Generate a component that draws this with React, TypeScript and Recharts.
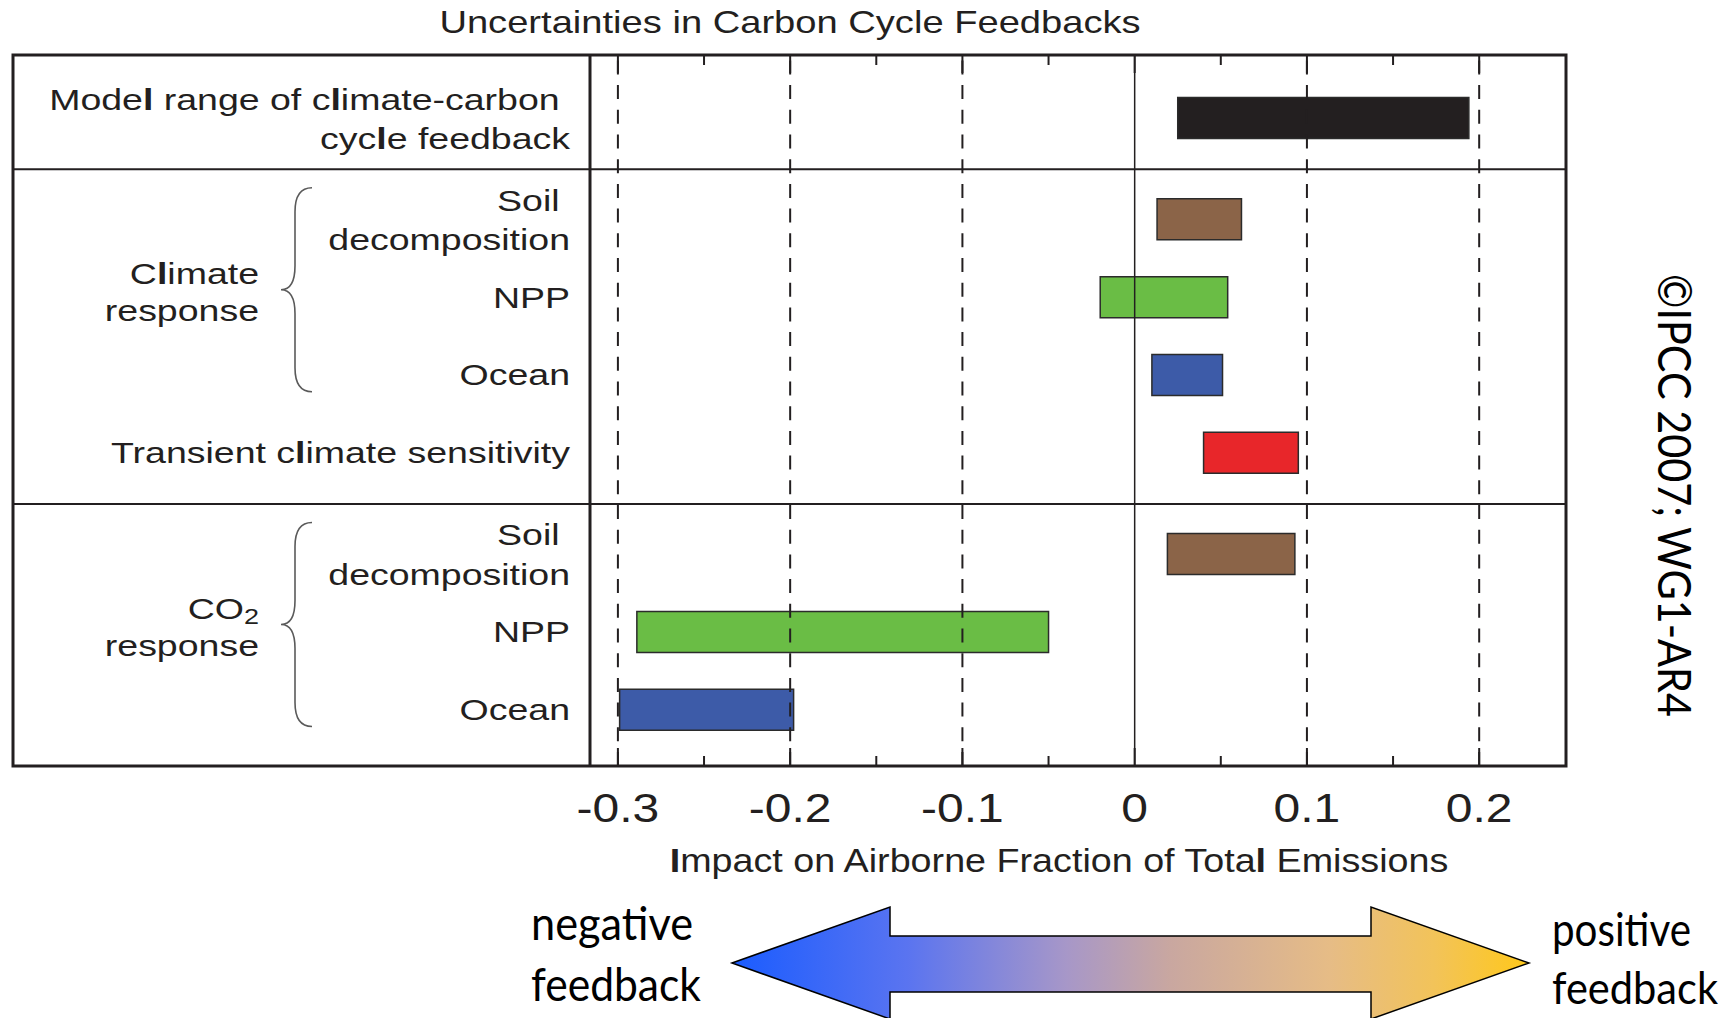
import React from 'react';
import { BarChart, Bar, XAxis, YAxis, Cell, ReferenceLine, ReferenceArea } from 'recharts';

// rows, top to bottom
const ROW_LABELS: string[][] = [
  ['Model range of climate-carbon ', 'cycle feedback'],
  ['Soil ', 'decomposition'],
  ['NPP'],
  ['Ocean'],
  ['Transient climate sensitivity'],
  ['Soil ', 'decomposition'],
  ['NPP'],
  ['Ocean'],
];
const ROW_GROUP = [0, 1, 1, 1, 1, 2, 2, 2];
const LOW = [0.025, 0.013, -0.02, 0.01, 0.04, 0.019, -0.289, -0.299];
const HIGH = [0.194, 0.062, 0.054, 0.051, 0.095, 0.093, -0.05, -0.198];

const GROUP_LABELS = [
  { lines: ['Climate', 'response'], first: 1, last: 3 },
  { lines: ['CO2', 'response'], first: 5, last: 7 },
];

const MAJOR_TICKS = [-0.3, -0.2, -0.1, 0, 0.1, 0.2];
const MINOR_TICKS = [-0.25, -0.15, -0.05, 0.05, 0.15];

const TITLE = 'Uncertainties in Carbon Cycle Feedbacks';
const X_TITLE = 'Impact on Airborne Fraction of Total Emissions';
const CREDIT = '©IPCC 2007; WG1-AR4';

const BAR_FILLS = ['#231f20', '#8b6448', '#6abd45', '#3d5ba8', '#e8262a', '#8b6448', '#6abd45', '#3d5ba8'];

// layout
const W = 1729;
const H = 1018;
const FRAME = { left: 13, top: 55, right: 1566, bottom: 766 };
const PANEL_W = 577;
const PLOT_W = FRAME.right - FRAME.left - PANEL_W;
const PLOT_H = FRAME.bottom - FRAME.top;
const X_DOMAIN: [number, number] = [-0.3162, 0.2504];
const Y_DOMAIN: [number, number] = [-0.816, 8.317];
const GROUP_GAP = 0.3;

const INK = '#231f20';
const FONT = '"Liberation Sans", Arial, Helvetica, sans-serif';
const SLIDE_FONT = 'Lato, "Open Sans", sans-serif';

const ROW_POS = ROW_GROUP.map((g, i) => i + g * GROUP_GAP);
const SEP_POS = ROW_POS.slice(1)
  .map((p, i) => (ROW_GROUP[i + 1] !== ROW_GROUP[i] ? (p + ROW_POS[i]) / 2 : null))
  .filter((p): p is number => p !== null);

const rows = ROW_LABELS.map((_, i) => ({ pos: ROW_POS[i], range: [LOW[i], HIGH[i]] }));

const near = (a: number, b: number) => Math.abs(a - b) < 1e-6;

// the scanned figure renders some l / I glyphs heavier, and CO2 with a subscript
function rich(line: string) {
  return line
    .split(/((?<!i)l|I|(?<=O)2)/)
    .filter(Boolean)
    .map((part, i) => {
      if (part === 'l' || part === 'I')
        return (
          <tspan key={i} fontWeight="bold">
            {part}
          </tspan>
        );
      if (part === '2')
        return (
          <tspan key={i} fontSize="0.72em" dy={5}>
            2
          </tspan>
        );
      return <tspan key={i}>{part}</tspan>;
    });
}

const Stretched = ({
  x,
  y,
  sx,
  size,
  anchor = 'end',
  children,
}: {
  x: number;
  y: number;
  sx: number;
  size: number;
  anchor?: 'start' | 'middle' | 'end';
  children: React.ReactNode;
}) => (
  <text
    transform={`translate(${x},${y}) scale(${sx},1)`}
    fontFamily={FONT}
    fontSize={size}
    fill={INK}
    textAnchor={anchor}
    style={{ whiteSpace: 'pre' }}
  >
    {children}
  </text>
);

const RowTick = (props: any) => {
  const { x, y, payload } = props;
  const v = payload.value as number;
  if (SEP_POS.some((s) => near(s, v))) {
    return <line x1={x - PANEL_W} x2={x + PLOT_W} y1={y} y2={y} stroke={INK} strokeWidth={2} />;
  }
  const row = ROW_POS.findIndex((p) => near(p, v));
  if (row < 0) return <g />;
  const lines = ROW_LABELS[row];
  const base = lines.length === 1 ? [10] : [-9, 30.5];
  return (
    <g>
      {lines.map((l, i) => (
        <Stretched key={i} x={x - 20} y={y + base[i]} sx={1.25} size={30}>
          {rich(l)}
        </Stretched>
      ))}
    </g>
  );
};

const XTick = (props: any) => {
  const { x, y, payload } = props;
  const v = payload.value as number;
  const major = MAJOR_TICKS.some((m) => near(m, v));
  const len = major ? 18 : 10;
  return (
    <g>
      <line x1={x} x2={x} y1={y} y2={y - len} stroke={INK} strokeWidth={2} />
      <line x1={x} x2={x} y1={y - PLOT_H} y2={y - PLOT_H + len} stroke={INK} strokeWidth={2} />
      {major && (
        <Stretched x={x} y={y + 56} sx={1.2} size={40} anchor="middle">
          {v === 0 ? '0' : v.toFixed(1)}
        </Stretched>
      )}
    </g>
  );
};

const Brace = (props: any) => {
  const { x, y, height, lines } = props;
  const tipX = x - 309;
  const midX = x - 295;
  const endX = x - 278;
  const yt = y;
  const yb = y + height;
  const ym = (yt + yb) / 2;
  const r = 24;
  const d = `M${endX},${yt} Q${midX},${yt} ${midX},${yt + r} L${midX},${ym - r} Q${midX},${ym} ${tipX},${ym} Q${midX},${ym} ${midX},${ym + r} L${midX},${yb - r} Q${midX},${yb} ${endX},${yb}`;
  const base = [-6, 31];
  return (
    <g>
      <path d={d} fill="none" stroke="#5a5a5a" strokeWidth={1.6} />
      {lines.map((l: string, i: number) => (
        <Stretched key={i} x={x - 331} y={ym + base[i]} sx={1.25} size={30}>
          {rich(l)}
        </Stretched>
      ))}
    </g>
  );
};

export default function App() {
  const arrow = [
    [732, 963],
    [890, 907],
    [890, 936],
    [1371, 936],
    [1371, 907],
    [1529, 963],
    [1371, 1019],
    [1371, 992],
    [890, 992],
    [890, 1019],
  ]
    .map((p) => p.join(','))
    .join(' ');

  return (
    <div style={{ position: 'relative', width: W, height: H, background: '#fff' }}>
      <style>{'body{margin:0;overflow:hidden}'}</style>
      <BarChart
        layout="vertical"
        width={W}
        height={H}
        data={rows}
        margin={{ top: FRAME.top, right: W - FRAME.right, bottom: 0, left: FRAME.left }}
      >
        <XAxis
          type="number"
          domain={X_DOMAIN}
          allowDataOverflow
          ticks={[...MAJOR_TICKS, ...MINOR_TICKS].sort((a, b) => a - b)}
          interval={0}
          height={H - FRAME.bottom}
          axisLine={false}
          tickLine={false}
          tickSize={0}
          tickMargin={0}
          tick={<XTick />}
        />
        <YAxis
          type="number"
          dataKey="pos"
          domain={Y_DOMAIN}
          allowDataOverflow
          ticks={[...ROW_POS, ...SEP_POS]}
          interval={0}
          width={PANEL_W}
          axisLine={{ stroke: INK, strokeWidth: 3 }}
          tickLine={false}
          tickSize={0}
          tickMargin={0}
          tick={<RowTick />}
        />
        {MAJOR_TICKS.map((v) => (
          <ReferenceLine
            key={v}
            x={v}
            stroke={INK}
            strokeWidth={v === 0 ? 1.5 : 2}
            strokeDasharray={v === 0 ? undefined : '14 10.7'}
          />
        ))}
        {GROUP_LABELS.map((g) => (
          <ReferenceArea
            key={g.lines[0]}
            y1={ROW_POS[g.first] - 0.41}
            y2={ROW_POS[g.last] + 0.21}
            ifOverflow="visible"
            shape={<Brace lines={g.lines} />}
          />
        ))}
        <Bar dataKey="range" barSize={41} stroke="#2b2b2b" strokeWidth={1.5} isAnimationActive={false}>
          {rows.map((_, i) => (
            <Cell key={i} fill={BAR_FILLS[i]} />
          ))}
        </Bar>
      </BarChart>

      <svg width={W} height={H} style={{ position: 'absolute', left: 0, top: 0, pointerEvents: 'none' }}>
        <defs>
          <linearGradient id="feedback" x1="732" x2="1529" y1="0" y2="0" gradientUnits="userSpaceOnUse">
            <stop offset="0" stopColor="#1a5cff" />
            <stop offset="0.22" stopColor="#5a74f0" />
            <stop offset="0.42" stopColor="#a797c8" />
            <stop offset="0.55" stopColor="#c9a7a0" />
            <stop offset="0.75" stopColor="#e6bc86" />
            <stop offset="0.88" stopColor="#f2c35a" />
            <stop offset="1" stopColor="#ffc81a" />
          </linearGradient>
        </defs>
        <rect
          x={FRAME.left}
          y={FRAME.top}
          width={FRAME.right - FRAME.left}
          height={FRAME.bottom - FRAME.top}
          fill="none"
          stroke={INK}
          strokeWidth={3}
        />
        <Stretched x={790} y={33} sx={1.25} size={30.5} anchor="middle">
          {TITLE}
        </Stretched>
        <Stretched x={1059} y={872} sx={1.16} size={32.5} anchor="middle">
          {rich(X_TITLE)}
        </Stretched>

        <polygon points={arrow} fill="url(#feedback)" stroke="#000" strokeWidth={1.5} />
        <g fontFamily={SLIDE_FONT} fontSize={46} fill="#000">
          <text x={531} y={940} textLength={162} lengthAdjust="spacingAndGlyphs">
            negative
          </text>
          <text x={531} y={1001} textLength={170} lengthAdjust="spacingAndGlyphs">
            feedback
          </text>
          <text x={1552} y={946} textLength={139} lengthAdjust="spacingAndGlyphs">
            positive
          </text>
          <text x={1552} y={1004} fontSize={44} textLength={166} lengthAdjust="spacingAndGlyphs">
            feedback
          </text>
          <text
            transform="translate(1658,274) rotate(90)"
            fontSize={47}
            textLength={443}
            lengthAdjust="spacingAndGlyphs"
          >
            {CREDIT}
          </text>
        </g>
      </svg>
    </div>
  );
}
